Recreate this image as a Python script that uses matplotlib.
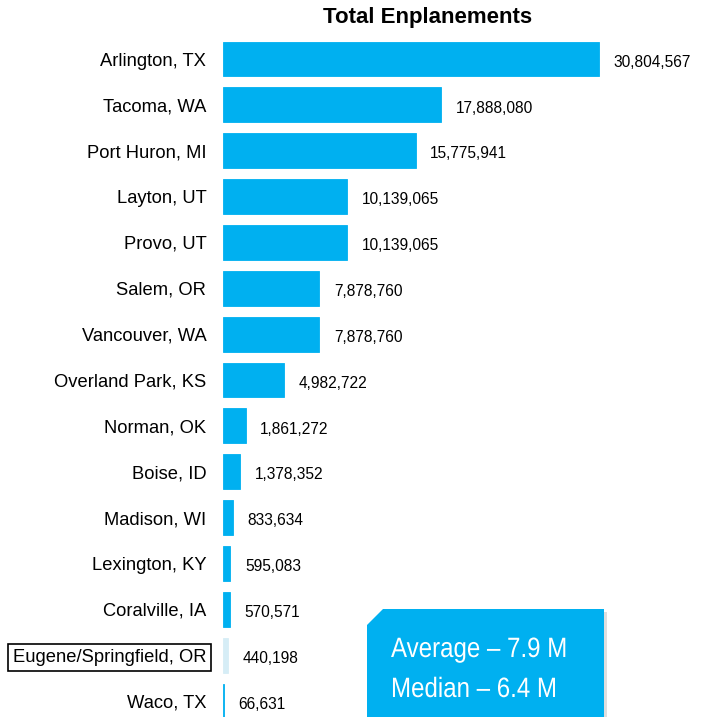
import matplotlib.pyplot as plt
from matplotlib.patches import Polygon, PathPatch
from matplotlib.textpath import TextPath
from matplotlib.font_manager import FontProperties
from matplotlib.transforms import Affine2D, IdentityTransform

plt.rcParams['font.family'] = ['Liberation Sans', 'DejaVu Sans']

cities = ["Arlington, TX", "Tacoma, WA", "Port Huron, MI", "Layton, UT", "Provo, UT",
          "Salem, OR", "Vancouver, WA", "Overland Park, KS", "Norman, OK", "Boise, ID",
          "Madison, WI", "Lexington, KY", "Coralville, IA", "Eugene/Springfield, OR", "Waco, TX"]
enplanements = [30804567, 17888080, 15775941, 10139065, 10139065,
                7878760, 7878760, 4982722, 1861272, 1378352,
                833634, 595083, 570571, 440198, 66631]
highlight = "Eugene/Springfield, OR"
summary_lines = ["Average \u2013 7.9 M", "Median \u2013 6.4 M"]

BLUE = "#00b0f0"
PALE = "#d6edf6"

W, H = 704, 717
fig = plt.figure(figsize=(W / 100, H / 100), dpi=100)

# axes placed in pixels: bars start at x=223, rows 45.86 px apart starting at y=59
row = 45.86
top_px = 59 - row / 2
ax = fig.add_axes([223 / W, 0, 390.6 / W, (H - top_px) / H])
n_rows = (H - top_px) / row
ax.set_ylim(n_rows - 0.5, -0.5)
ax.set_xlim(0, 32e6)

colors = [PALE if c == highlight else BLUE for c in cities]
ypos = range(len(cities))
# thin matching edge keeps the tiny Waco bar visible as a blue sliver
ax.barh(ypos, enplanements, height=0.76, color=colors, edgecolor=colors, linewidth=0.6)

for y, v in zip(ypos, enplanements):
    ax.text(v + 1.2e6, y + 0.07, f"{v:,}", va="center", ha="left", fontsize=11.2)

ax.set_yticks(list(ypos))
ax.set_yticklabels(cities, fontsize=13.2)
ax.tick_params(axis="y", length=0, pad=12)
ax.set_xticks([])
for s in ax.spines.values():
    s.set_visible(False)

for lbl in ax.get_yticklabels():
    if lbl.get_text() == highlight:
        lbl.set_bbox(dict(boxstyle="square,pad=0.28", fc="white", ec="black", lw=1.2))

fig.text(428 / W, 1 - 17 / H, "Total Enplanements", ha="center", va="center",
         fontsize=16, fontweight="bold")

# summary callout with a clipped corner
def px(x, y):
    return (x / W, 1 - y / H)

corner = [px(367, 625), px(383, 609), px(604, 609), px(604, 720), px(367, 720)]
shadow = [(x + 3 / W, y - 3 / H) for x, y in corner]
fig.patches.append(Polygon(shadow, closed=True, transform=fig.transFigure,
                           fc="#c8c8c8", ec="none", alpha=0.6))
fig.patches.append(Polygon(corner, closed=True, transform=fig.transFigure,
                           fc=BLUE, ec="none"))

# condensed white text drawn as paths, baselines at 657 and 697 px
prop = FontProperties(family="Liberation Sans")
for line, base in zip(summary_lines, [657, 697]):
    tp = TextPath((0, 0), line, size=28, prop=prop)
    tr = Affine2D().scale(0.86, 1.0).translate(391, H - base) + IdentityTransform()
    fig.patches.append(PathPatch(tp, transform=tr, fc="white", ec="none", lw=0))

fig.savefig("out.png", dpi=100)
